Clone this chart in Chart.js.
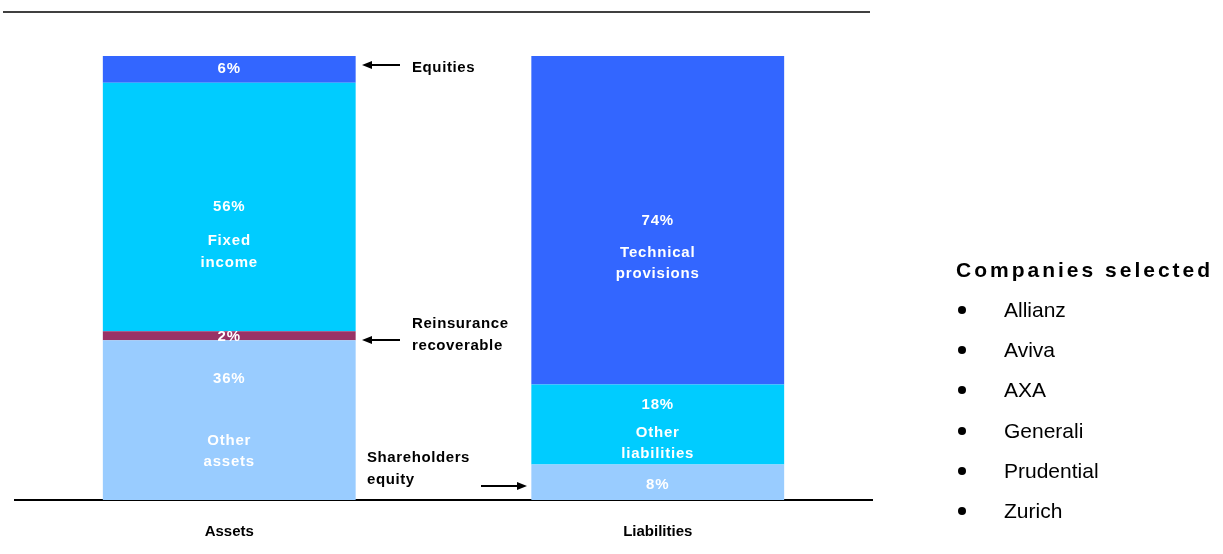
<!DOCTYPE html>
<html>
<head>
<meta charset="utf-8">
<script src="https://cdn.jsdelivr.net/npm/chart.js@4.4.1/dist/chart.umd.min.js"></script>
<style>
  body { margin: 0; background: #fff; font-family: 'Liberation Sans', Arial, sans-serif; }
  #wrap { position: relative; width: 1223px; height: 554px; }
  #balanceChart { position: absolute; left: 0; top: 0; }
  #legend { position: absolute; left: 956px; top: 256px; color: #000; }
  #legend h3 { margin: 0 0 6px 0; font-size: 21px; font-weight: bold; line-height: 28px; letter-spacing: 3px; white-space: nowrap; }
  #legend ul { margin: 0; padding: 0; list-style: none; }
  #legend li { font-size: 21px; line-height: 40.2px; position: relative; padding-left: 48px; }
  #legend li:before { content: ''; position: absolute; left: 2px; top: 16px; width: 8px; height: 8px; border-radius: 50%; background: #000; }
</style>
</head>
<body>
<div id="wrap">
  <canvas id="balanceChart" width="1223" height="554"></canvas>
  <div id="legend">
    <h3>Companies selected</h3>
    <ul id="companyList"></ul>
  </div>
</div>
<script>
const categories = ['Assets', 'Liabilities'];
const bottomValues = [36, 8];      // Other assets / Shareholders equity
const reinsuranceValues = [2, 0];  // Reinsurance recoverable
const middleValues = [56, 18];     // Fixed income / Other liabilities
const topValues = [6, 74];         // Equities / Technical provisions
const companies = ['Allianz', 'Aviva', 'AXA', 'Generali', 'Prudential', 'Zurich'];

// names written inside the bars: [dataset][category]
const innerNames = [
  [['Other', 'assets'], []],
  [[], []],
  [['Fixed', 'income'], ['Other', 'liabilities']],
  [[], ['Technical', 'provisions']]
];

document.getElementById('companyList').innerHTML =
  companies.map(function(c) { return '<li>' + c + '</li>'; }).join('');

// vertical offsets (px from segment centre) for percent + name lines
const labelOffsets = [
  [[-41, 21, 42], [3]],
  [[1], []],
  [[0, 34, 56], [-20, 8, 29]],
  [[0], [1, 33, 54]]
];

const FONT = "bold 15px 'Liberation Sans', Arial, sans-serif";

function arrow(ctx, x1, y, x2) {
  const dir = x2 > x1 ? 1 : -1;
  ctx.beginPath();
  ctx.moveTo(x1, y);
  ctx.lineTo(x2 - dir * 8, y);
  ctx.lineWidth = 2;
  ctx.strokeStyle = '#000';
  ctx.stroke();
  ctx.beginPath();
  ctx.moveTo(x2, y);
  ctx.lineTo(x2 - dir * 10, y - 4);
  ctx.lineTo(x2 - dir * 10, y + 4);
  ctx.closePath();
  ctx.fillStyle = '#000';
  ctx.fill();
}

const barLabels = {
  id: 'barLabels',
  afterDatasetsDraw: function(chart) {
    const ctx = chart.ctx;
    ctx.save();
    ctx.textAlign = 'center';
    ctx.textBaseline = 'middle';
    ctx.fillStyle = '#fff';
    ctx.font = FONT;
    ctx.letterSpacing = '0.8px';
    chart.data.datasets.forEach(function(ds, i) {
      const meta = chart.getDatasetMeta(i);
      meta.data.forEach(function(bar, j) {
        const v = ds.data[j];
        if (!v) return;
        const cy = (bar.y + bar.base) / 2;
        const lines = [v + '%'].concat(innerNames[i][j]);
        const offs = labelOffsets[i][j];
        lines.forEach(function(t, k) {
          ctx.fillText(t, bar.x, cy + offs[k]);
        });
      });
    });

    // top rule
    ctx.beginPath();
    ctx.moveTo(3, 12);
    ctx.lineTo(870, 12);
    ctx.lineWidth = 1.5;
    ctx.strokeStyle = '#000';
    ctx.stroke();

    // annotations
    ctx.fillStyle = '#000';
    ctx.textAlign = 'left';
    ctx.font = FONT;
    ctx.letterSpacing = '0.6px';
    ctx.fillText('Equities', 412, 68);
    ctx.fillText('Reinsurance', 412, 324);
    ctx.fillText('recoverable', 412, 346);
    ctx.fillText('Shareholders', 367, 458);
    ctx.fillText('equity', 367, 480);
    arrow(ctx, 400, 65, 362);
    arrow(ctx, 400, 340, 362);
    arrow(ctx, 481, 486, 527);
    ctx.restore();
  }
};

new Chart(document.getElementById('balanceChart'), {
  type: 'bar',
  data: {
    labels: categories,
    datasets: [
      { label: 'Other assets / Shareholders equity', data: bottomValues, backgroundColor: '#99CCFF' },
      { label: 'Reinsurance recoverable', data: reinsuranceValues, backgroundColor: '#993366' },
      { label: 'Fixed income / Other liabilities', data: middleValues, backgroundColor: '#00CCFF' },
      { label: 'Equities / Technical provisions', data: topValues, backgroundColor: '#3366FF' }
    ]
  },
  options: {
    responsive: false,
    animation: false,
    layout: { padding: { left: 15, right: 351, top: 56, bottom: -10 } },
    datasets: { bar: { barPercentage: 0.59, categoryPercentage: 1, borderWidth: 0 } },
    plugins: { legend: { display: false }, tooltip: { enabled: false } },
    scales: {
      x: {
        stacked: true,
        grid: { display: false, drawTicks: false, tickLength: 0 },
        border: { display: true, color: '#000', width: 2 },
        ticks: {
          color: '#000',
          padding: 23,
          font: { size: 15, weight: 'bold', family: "'Liberation Sans', Arial, sans-serif" }
        }
      },
      y: {
        stacked: true,
        display: false,
        min: 0,
        max: 100
      }
    }
  },
  plugins: [barLabels]
});
</script>
</body>
</html>
